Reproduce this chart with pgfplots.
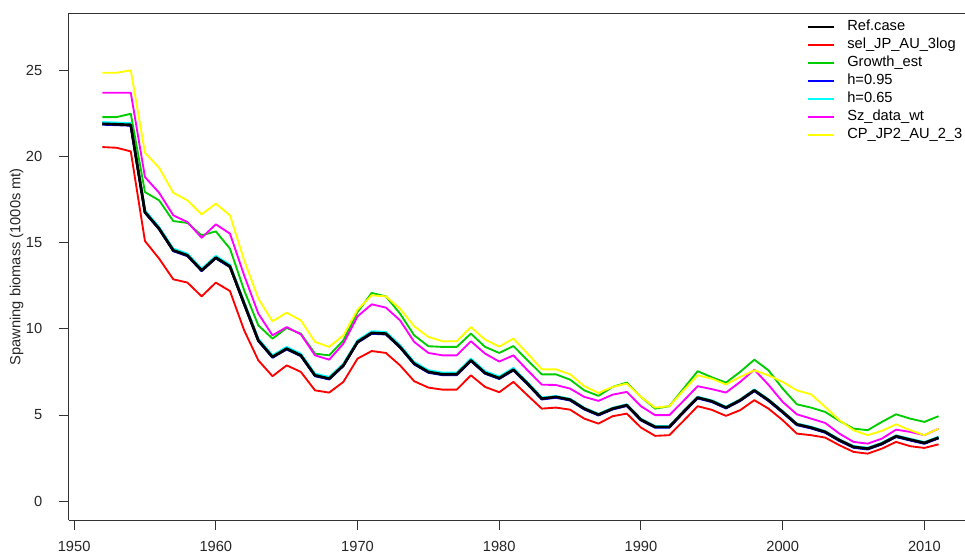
\documentclass[border=0pt]{standalone}
\usepackage{pgfplots}
\pgfplotsset{compat=1.18}
\usepackage{pgfplotstable}
\usepackage{fontspec}
\setmainfont{Liberation Sans}
\definecolor{rgreen}{RGB}{0,205,0}
\definecolor{rcyan}{RGB}{0,255,255}
\definecolor{rmagenta}{RGB}{255,0,255}
\definecolor{ryellow}{RGB}{255,255,0}
\definecolor{rblue}{RGB}{0,0,255}
\definecolor{rred}{RGB}{255,0,0}

\pgfplotstableread{
year ref sel growth hhi hlo sz cp
1952 21.89 20.54 22.28 21.84 21.99 23.69 24.85
1953 21.86 20.50 22.28 21.81 21.96 23.69 24.85
1954 21.83 20.29 22.47 21.78 21.93 23.69 24.99
1955 16.77 15.09 17.93 16.72 16.87 18.80 20.21
1956 15.81 14.07 17.45 15.76 15.91 17.89 19.34
1957 14.55 12.87 16.25 14.50 14.65 16.58 17.89
1958 14.26 12.68 16.14 14.21 14.36 16.19 17.45
1959 13.39 11.88 15.42 13.34 13.49 15.28 16.64
1960 14.13 12.68 15.65 14.08 14.23 16.06 17.26
1961 13.62 12.19 14.65 13.57 13.72 15.52 16.58
1962 11.46 9.91 12.23 11.41 11.56 13.10 13.97
1963 9.33 8.17 10.20 9.28 9.43 10.88 11.75
1964 8.37 7.25 9.43 8.32 8.47 9.62 10.43
1965 8.85 7.88 10.05 8.80 8.95 10.10 10.94
1966 8.46 7.50 9.72 8.41 8.56 9.68 10.49
1967 7.30 6.43 8.56 7.25 7.40 8.46 9.24
1968 7.11 6.30 8.46 7.06 7.21 8.21 8.95
1969 7.88 6.92 9.33 7.83 7.98 9.14 9.62
1970 9.24 8.27 10.97 9.19 9.34 10.72 11.11
1971 9.76 8.71 12.08 9.71 9.86 11.42 11.94
1972 9.72 8.60 11.88 9.67 9.82 11.23 11.88
1973 8.95 7.88 10.88 8.90 9.05 10.49 11.17
1974 7.98 6.96 9.62 7.93 8.08 9.24 10.14
1975 7.50 6.59 8.99 7.45 7.60 8.60 9.53
1976 7.36 6.47 8.95 7.31 7.46 8.46 9.28
1977 7.36 6.47 8.95 7.31 7.46 8.46 9.28
1978 8.17 7.30 9.72 8.12 8.27 9.28 10.10
1979 7.44 6.63 8.95 7.39 7.54 8.56 9.37
1980 7.14 6.32 8.60 7.09 7.24 8.10 8.97
1981 7.63 6.92 9.00 7.58 7.73 8.46 9.43
1982 6.82 6.14 8.17 6.77 6.90 7.59 8.56
1983 5.95 5.37 7.36 5.90 6.02 6.76 7.65
1984 6.05 5.43 7.36 6.00 6.10 6.74 7.65
1985 5.89 5.31 7.05 5.84 5.94 6.53 7.36
1986 5.37 4.79 6.43 5.32 5.42 6.05 6.67
1987 5.02 4.50 6.11 4.97 5.07 5.82 6.28
1988 5.37 4.93 6.63 5.32 5.42 6.18 6.63
1989 5.57 5.08 6.88 5.52 5.62 6.34 6.82
1990 4.73 4.27 6.05 4.68 4.78 5.51 6.05
1991 4.31 3.79 5.37 4.26 4.36 4.99 5.43
1992 4.31 3.83 5.51 4.26 4.36 4.99 5.51
1993 5.18 4.66 6.53 5.13 5.23 5.82 6.43
1994 6.01 5.51 7.54 5.96 6.06 6.67 7.30
1995 5.80 5.30 7.19 5.75 5.85 6.50 7.11
1996 5.43 4.95 6.88 5.38 5.48 6.30 6.77
1997 5.86 5.28 7.50 5.81 5.91 6.92 7.21
1998 6.43 5.86 8.21 6.38 6.48 7.63 7.59
1999 5.86 5.37 7.59 5.81 5.91 6.75 7.30
2000 5.18 4.70 6.53 5.13 5.23 5.76 6.92
2001 4.46 3.92 5.62 4.41 4.51 5.04 6.43
2002 4.27 3.83 5.43 4.22 4.32 4.79 6.20
2003 4.02 3.69 5.18 3.97 4.07 4.54 5.47
2004 3.54 3.25 4.66 3.49 3.59 3.92 4.70
2005 3.15 2.86 4.21 3.10 3.20 3.44 4.12
2006 3.05 2.76 4.12 3.00 3.10 3.34 3.83
2007 3.34 3.05 4.60 3.29 3.39 3.63 4.08
2008 3.77 3.44 5.04 3.72 3.82 4.15 4.46
2009 3.57 3.19 4.79 3.52 3.62 4.02 4.12
2010 3.38 3.09 4.60 3.33 3.43 3.83 3.83
2011 3.69 3.30 4.93 3.64 3.74 4.21 4.21
}\datatable

\begin{document}
\begin{tikzpicture}
\begin{axis}[
  at={(0pt,0pt)}, anchor=south west,
  scale only axis,
  width=677.25pt, height=379.9pt,
  xmin=1949.64, xmax=2013.36,
  ymin=-1.09, ymax=28.29,
  xtick={1950,1960,...,2010},
  ytick={0,5,...,25},
  axis lines*=left,
  tick align=outside,
  major tick length=7.5pt,
  axis line style={line width=0.75pt, black!80, -},
  every tick/.style={line width=0.75pt, black!80},
  /pgf/number format/assume math mode=true,
  /pgf/number format/1000 sep={},
  tick label style={font=\fontsize{11}{13}\selectfont, text=black!85},
  xticklabel style={yshift=-5pt},
  yticklabel style={xshift=-9pt},
  ylabel={Spawning biomass (1000s mt)},
  every axis y label/.style={at={(axis description cs:-0.058,0.50)}, rotate=90, anchor=center,
    font=\fontsize{11}{13}\selectfont, text=black!85},
  legend cell align=left,
  legend image code/.code={\draw[#1] (0pt,0pt) -- (20pt,0pt); \path (28pt,0pt);},
  legend style={draw=none, fill=none, at={(axis description cs:0.812,0.995)}, anchor=north west,
    font=\fontsize{11}{13}\selectfont, row sep=1pt,
    nodes={inner sep=1pt, text height=8pt, text depth=2.5pt}},
  every axis plot/.append style={line width=1.4pt, line join=round},
]
\addplot[black, line width=2pt, legend image post style={line width=1.6pt}] table[x=year, y=ref] {\datatable};
\addlegendentry{Ref.case}
\addplot[rred] table[x=year, y=sel] {\datatable};
\addlegendentry{sel\_JP\_AU\_3log}
\addplot[rgreen] table[x=year, y=growth] {\datatable};
\addlegendentry{Growth\_est}
\addplot[rblue] table[x=year, y=hhi] {\datatable};
\addlegendentry{h=0.95}
\addplot[rcyan] table[x=year, y=hlo] {\datatable};
\addlegendentry{h=0.65}
\addplot[rmagenta] table[x=year, y=sz] {\datatable};
\addlegendentry{Sz\_data\_wt}
\addplot[ryellow] table[x=year, y=cp] {\datatable};
\addlegendentry{CP\_JP2\_AU\_2\_3}
\addplot[black, line width=2pt, forget plot] table[x=year, y=ref] {\datatable};
\draw[line width=0.75pt, black!80] (axis description cs:0,1) -- (axis description cs:1,1);
\end{axis}
\pgfresetboundingbox
\useasboundingbox (-51.75pt,-28.5pt) rectangle (672pt,390pt);
\end{tikzpicture}
\end{document}
